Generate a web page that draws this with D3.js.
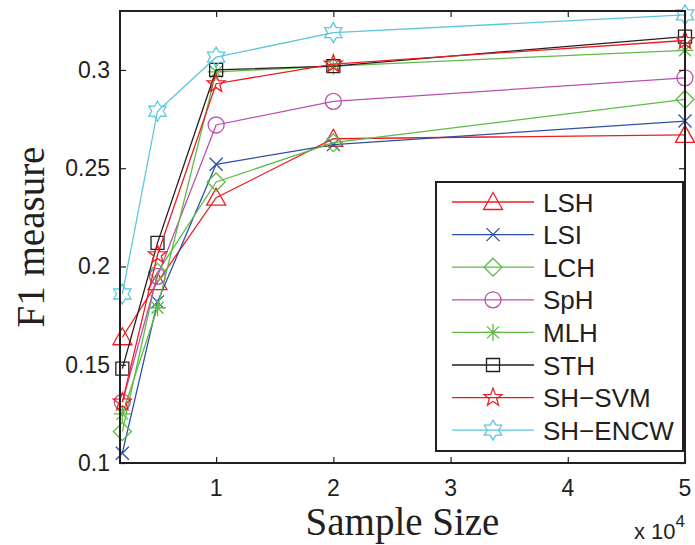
<!DOCTYPE html>
<html>
<head>
<meta charset="utf-8">
<script src="https://cdn.jsdelivr.net/npm/d3@7"></script>
<style>
  html, body { margin: 0; padding: 0; background: #fff; }
  svg { display: block; }
</style>
</head>
<body>
<svg id="chart" width="695" height="545"></svg>
<script>
// Sample sizes and F1 measure for each hashing method
const sampleSizes = [2000, 5000, 10000, 20000, 50000];
const methods = ["LSH", "LSI", "LCH", "SpH", "MLH", "STH", "SH\u2212SVM", "SH\u2212ENCW"];
const lshF1    = [0.164, 0.192, 0.235, 0.265, 0.267];
const lsiF1    = [0.105, 0.182, 0.252, 0.262, 0.274];
const lchF1    = [0.116, 0.197, 0.243, 0.263, 0.285];
const sphF1    = [0.131, 0.195, 0.272, 0.284, 0.296];
const mlhF1    = [0.125, 0.179, 0.299, 0.302, 0.310];
const sthF1    = [0.148, 0.212, 0.300, 0.302, 0.317];
const shSvmF1  = [0.131, 0.206, 0.293, 0.303, 0.315];
const shEncwF1 = [0.186, 0.279, 0.3065, 0.319, 0.328];
const xTicks = [10000, 20000, 30000, 40000, 50000];
const xTickLabels = ["1", "2", "3", "4", "5"];
const yTicks = [0.1, 0.15, 0.2, 0.25, 0.3];
const yTickLabels = ["0.1", "0.15", "0.2", "0.25", "0.3"];

const seriesValues = [lshF1, lsiF1, lchF1, sphF1, mlhF1, sthF1, shSvmF1, shEncwF1];
const colors  = ["#ee1c24", "#2e4fa6", "#5dbb46", "#bb4fae", "#5dbb46", "#231f20", "#ee1c24", "#5cc6dc"];
const markers = ["triangle", "cross", "diamond", "circle", "asterisk", "square", "pentagram", "hexagram"];

const svg = d3.select("#chart");
const plotL = 120, plotR = 685, plotT = 11, plotB = 463;

const x = d3.scaleLinear().domain([1800, 50000]).range([plotL, plotR]);
const y = d3.scaleLinear().domain([0.1, 0.33]).range([plotB, plotT]);

// Marker shapes as path strings centred on the origin
function starPath(n, R, r, rot) {
  const pts = [];
  for (let i = 0; i < 2 * n; i++) {
    const rad = i % 2 === 0 ? R : r;
    const a = rot + i * Math.PI / n;
    pts.push([rad * Math.cos(a), rad * Math.sin(a)]);
  }
  return "M" + pts.map(p => p[0].toFixed(2) + "," + p[1].toFixed(2)).join("L") + "Z";
}
function markerPath(kind) {
  switch (kind) {
    case "triangle": return "M0,-9.5L9.5,7.5L-9.5,7.5Z";
    case "cross": return "M-6.5,-6.5L6.5,6.5M-6.5,6.5L6.5,-6.5";
    case "diamond": return "M0,-9L9,0L0,9L-9,0Z";
    case "circle": return "M8,0A8,8 0 1,1 -8,0A8,8 0 1,1 8,0Z";
    case "asterisk": return "M0,-8.5L0,8.5M-8.5,0L8.5,0M-6,-6L6,6M-6,6L6,-6";
    case "square": return "M-6.5,-6.5L6.5,-6.5L6.5,6.5L-6.5,6.5Z";
    case "pentagram": return starPath(5, 9.5, 3.9, -Math.PI / 2);
    case "hexagram": return starPath(6, 10, 5.8, -Math.PI / 2);
  }
}

// Data lines and markers
const plot = svg.append("g");
seriesValues.forEach((vals, i) => {
  const pts = sampleSizes.map((s, j) => [s, vals[j]]);
  plot.append("path")
    .attr("d", d3.line().x(d => x(d[0])).y(d => y(d[1]))(pts))
    .attr("fill", "none")
    .attr("stroke", colors[i])
    .attr("stroke-width", 1.3);
  plot.selectAll(null).data(pts).enter().append("path")
    .attr("d", markerPath(markers[i]))
    .attr("transform", d => `translate(${x(d[0])},${y(d[1])})`)
    .attr("fill", "none")
    .attr("stroke", colors[i])
    .attr("stroke-width", 1.3);
});

// Axes box with inward ticks on all four sides
const axisG = svg.append("g");
const tickLen = 6;
const bottomAxis = d3.axisBottom(x).tickValues(xTicks).tickSize(-tickLen).tickFormat("");
const topAxis = d3.axisTop(x).tickValues(xTicks).tickSize(-tickLen).tickFormat("");
const leftAxis = d3.axisLeft(y).tickValues(yTicks).tickSize(-tickLen).tickFormat("");
const rightAxis = d3.axisRight(y).tickValues(yTicks).tickSize(-tickLen).tickFormat("");
[[bottomAxis, `translate(0,${plotB})`], [topAxis, `translate(0,${plotT})`],
 [leftAxis, `translate(${plotL},0)`], [rightAxis, `translate(${plotR},0)`]].forEach(([ax, tr]) => {
  const g = axisG.append("g").attr("transform", tr).call(ax);
  g.select(".domain").remove();
  g.selectAll(".tick line").attr("stroke", "#231f20").attr("stroke-width", 1.2);
});
axisG.append("rect")
  .attr("x", plotL).attr("y", plotT)
  .attr("width", plotR - plotL).attr("height", plotB - plotT)
  .attr("fill", "none").attr("stroke", "#231f20").attr("stroke-width", 2);

// Tick labels
const tickFont = "'Liberation Sans', Arial, sans-serif";
svg.append("g").selectAll("text").data(xTicks).enter().append("text")
  .attr("x", d => x(d)).attr("y", 496)
  .attr("text-anchor", "middle")
  .attr("font-family", tickFont).attr("font-size", 23).attr("fill", "#231f20")
  .text((d, i) => xTickLabels[i]);
svg.append("g").selectAll("text").data(yTicks).enter().append("text")
  .attr("x", 110).attr("y", d => y(d) + 8)
  .attr("text-anchor", "end")
  .attr("font-family", tickFont).attr("font-size", 23).attr("fill", "#231f20")
  .text((d, i) => yTickLabels[i]);

// Exponent note
const expo = svg.append("text")
  .attr("x", 634).attr("y", 539)
  .attr("font-family", tickFont).attr("font-size", 22).attr("fill", "#231f20");
expo.append("tspan").text("x 10");
expo.append("tspan").attr("dy", -12).attr("font-size", 17).text("4");

// Axis titles
const titleFont = "'Liberation Serif', 'Times New Roman', serif";
svg.append("text")
  .attr("x", (plotL + plotR) / 2).attr("y", 535)
  .attr("text-anchor", "middle")
  .attr("font-family", titleFont).attr("font-size", 39).attr("fill", "#231f20")
  .text("Sample Size");
svg.append("text")
  .attr("transform", `translate(44,${(plotT + plotB) / 2}) rotate(-90)`)
  .attr("text-anchor", "middle")
  .attr("font-family", titleFont).attr("font-size", 39).attr("fill", "#231f20")
  .text("F1 measure");

// Legend
const legX = 436, legY = 182, legW = 247, legH = 269, rowGap = 32.6, firstRow = 202;
const legend = svg.append("g");
legend.append("rect")
  .attr("x", legX).attr("y", legY).attr("width", legW).attr("height", legH)
  .attr("fill", "#fff").attr("stroke", "#231f20").attr("stroke-width", 2);
methods.forEach((name, i) => {
  const ry = firstRow + i * rowGap;
  legend.append("line")
    .attr("x1", 452).attr("x2", 534).attr("y1", ry).attr("y2", ry)
    .attr("stroke", colors[i]).attr("stroke-width", 1.3);
  legend.append("path")
    .attr("d", markerPath(markers[i]))
    .attr("transform", `translate(493,${ry})`)
    .attr("fill", "none").attr("stroke", colors[i]).attr("stroke-width", 1.3);
  legend.append("text")
    .attr("x", 543).attr("y", ry + 9.5)
    .attr("font-family", tickFont).attr("font-size", 26).attr("fill", "#231f20")
    .text(name);
});
</script>
</body>
</html>
